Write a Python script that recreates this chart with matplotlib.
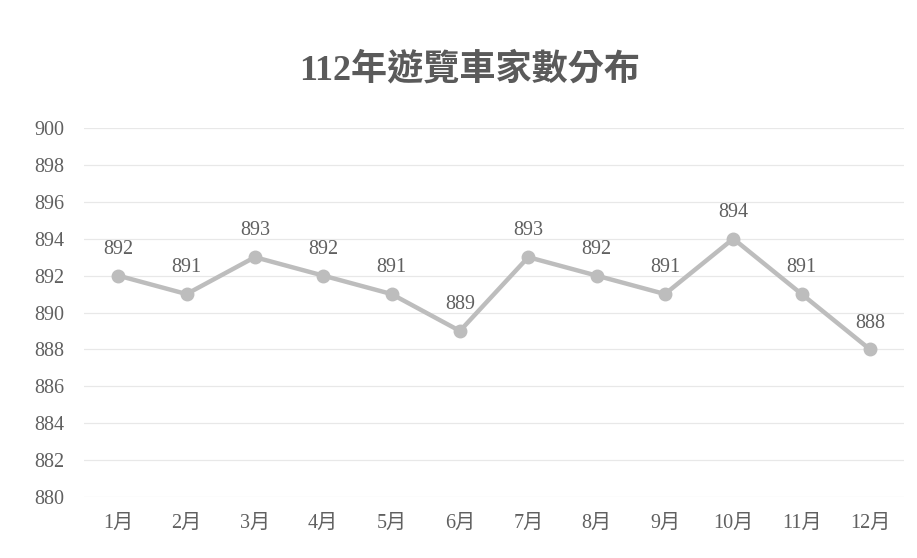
import matplotlib.pyplot as plt

plt.rcParams['font.family'] = ['Liberation Serif', 'Noto Sans CJK TC', 'DejaVu Sans']

months = ['1月', '2月', '3月', '4月', '5月', '6月', '7月', '8月', '9月', '10月', '11月', '12月']
counts = [892, 891, 893, 892, 891, 889, 893, 892, 891, 894, 891, 888]
y_ticks = list(range(880, 901, 2))

fig = plt.figure(figsize=(9.17, 5.58), dpi=100)
ax = fig.add_axes([0.0916, 0.1093, 0.8944, 0.6613])

x = range(len(months))
ax.plot(x, counts, color='#bdbdbd', linewidth=3.2, marker='o', markersize=9,
        markerfacecolor='#bdbdbd', markeredgecolor='#bdbdbd', zorder=3)

for i, v in zip(x, counts):
    ax.annotate(str(v), (i, v), xytext=(0, 12), textcoords='offset points',
                ha='center', va='bottom', fontsize=14.5, color='#606060')

ax.set_xlim(-0.5, len(months) - 0.5)
ax.set_ylim(880, 900)
ax.set_yticks(y_ticks)
ax.set_xticks(list(x))
ax.set_xticklabels(months)
ax.tick_params(axis='both', length=0, labelsize=14.5, labelcolor='#606060')
ax.tick_params(axis='y', pad=14)
ax.tick_params(axis='x', pad=12)
ax.grid(axis='y', color='#e8e8e8', linewidth=0.9)
ax.set_axisbelow(True)
for s in ax.spines.values():
    s.set_visible(False)

fig.text(0.512, 0.875, '112年遊覽車家數分布', ha='center', va='center',
         fontsize=26, fontweight='bold', color='#5a5a5a')

fig.savefig('out.png', dpi=100)
